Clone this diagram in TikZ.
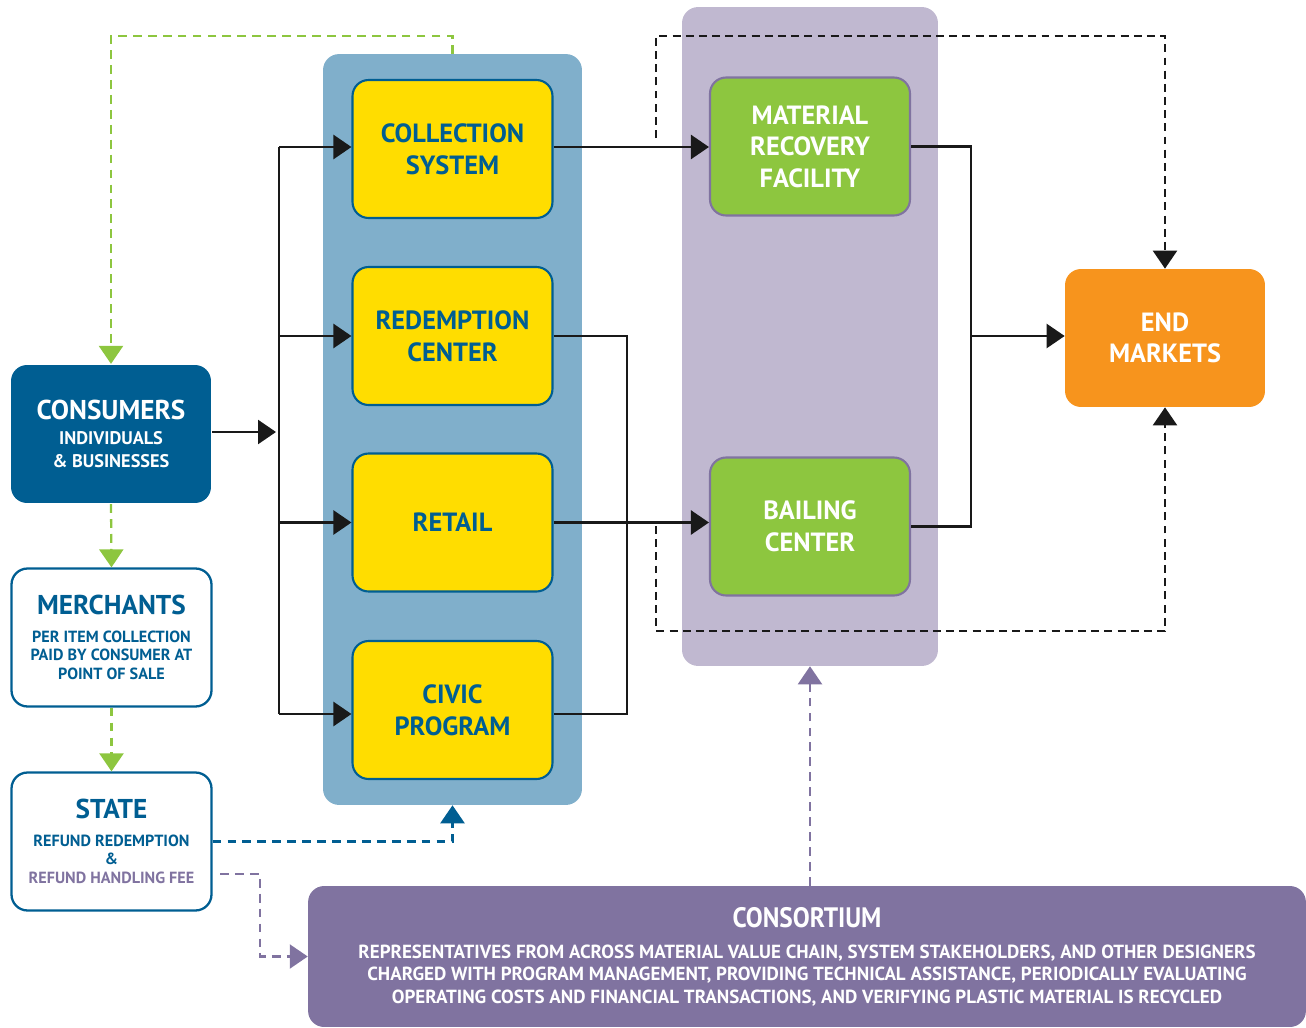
\documentclass[tikz,border=0pt]{standalone}
\usepackage{fontspec}
\setmainfont{PT Sans}
\newfontfamily\condfont[FakeStretch=0.9]{PT Sans}
\usepackage{xcolor}
\usetikzlibrary{arrows.meta, positioning, calc}
\definecolor{darkblue}{RGB}{0, 94, 146}
\definecolor{panelblue}{RGB}{128, 175, 203}
\definecolor{boxyellow}{RGB}{255, 221, 0}
\definecolor{boxgreen}{RGB}{141, 198, 63}
\definecolor{panellilac}{RGB}{192, 184, 208}
\definecolor{darklilac}{RGB}{128, 115, 160}
\definecolor{endorange}{RGB}{247, 148, 29}
\newcommand\headfont{\fontsize{15.5}{17}\selectfont}

\begin{document}
\begin{tikzpicture}[x=0.02cm, y=-0.02cm,
    box/.style={rectangle, rounded corners=0.32cm, minimum width=4cm, minimum height=2.76cm, align=center, inner sep=2pt, font=\bfseries\fontsize{15}{18}\selectfont},
    yellowbox/.style={box, fill=boxyellow, draw=darkblue, line width=1.2pt, text=darkblue},
    greenbox/.style={box, fill=boxgreen, draw=darklilac, line width=1.2pt, text=white},
    sidebox/.style={box, fill=white, draw=darkblue, line width=1.3pt, text=darkblue, font=\bfseries\fontsize{9.2}{10.8}\selectfont},
    panel/.style={rectangle, rounded corners=0.32cm, inner sep=0pt},
    edge/.style={line width=1.4pt, black!90},
    tip/.style={-{Triangle[length=0.36cm, width=0.48cm]}},
    blackdash/.style={line width=1.3pt, black!90, dash pattern=on 4.5pt off 3pt},
    greendash/.style={line width=1.3pt, boxgreen, dash pattern=on 5pt off 3.5pt},
    bluedash/.style={line width=1.3pt, darkblue, dash pattern=on 5pt off 3.5pt},
    lilacdash/.style={line width=1.3pt, darklilac, dash pattern=on 5pt off 3.5pt}
]
\clip (0,0) rectangle (1306,1028);

\node[panel, fill=panelblue, minimum width=5.18cm, minimum height=15.02cm] (bluepanel) at (452.5,429.5) {};
\node[panel, fill=panellilac, minimum width=5.12cm, minimum height=13.18cm] (lilacpanel) at (810,336.5) {};

\node[yellowbox] (collection) at (452.5,149) {COLLECTION\\SYSTEM};
\node[yellowbox] (redemption) at (452.5,336) {REDEMPTION\\CENTER};
\node[yellowbox] (retail) at (452.5,522.5) {RETAIL};
\node[yellowbox] (civic) at (452.5,710) {CIVIC\\PROGRAM};

\node[greenbox] (mrf) at (810,146.5) {MATERIAL\\RECOVERY\\FACILITY};
\node[greenbox] (bailing) at (810,526.5) {BAILING\\CENTER};
\node[box, fill=endorange, text=white] (endmarkets) at (1165,338) {END\\MARKETS};

\node[sidebox, draw=none, fill=darkblue, text=white, font=\bfseries\fontsize{10.4}{13}\selectfont] (consumers) at (111,434) {{\headfont CONSUMERS}\\[1pt]INDIVIDUALS\\\& BUSINESSES};
\node[sidebox] (merchants) at (111.5,637.5) {{\headfont MERCHANTS}\\[5pt]PER ITEM COLLECTION\\PAID BY CONSUMER AT\\POINT OF SALE};
\node[sidebox] (state) at (111.5,841.5) {{\headfont STATE}\\[5pt]REFUND REDEMPTION\\\&\\\textcolor{darklilac}{REFUND HANDLING FEE}};

\node[panel, fill=darklilac, text=white, align=center, minimum width=19.96cm, minimum height=2.82cm, font=\bfseries\fontsize{10.8}{12.8}\selectfont] (consortium) at (807,956.5) {{\condfont\fontsize{16}{16}\selectfont CONSORTIUM}\\[4.8pt]REPRESENTATIVES FROM ACROSS MATERIAL VALUE CHAIN, SYSTEM STAKEHOLDERS, AND OTHER DESIGNERS\\CHARGED WITH PROGRAM MANAGEMENT, PROVIDING TECHNICAL ASSISTANCE, PERIODICALLY EVALUATING\\OPERATING COSTS AND FINANCIAL TRANSACTIONS, AND VERIFYING PLASTIC MATERIAL IS RECYCLED};

\coordinate (bustop) at (279,147);
\coordinate (busbot) at (279,714);
\coordinate (busin) at (276,432);
\coordinate (join) at (627,714);
\coordinate (mix) at (971,336);
\coordinate (dtop) at (656,138);
\coordinate (dtopturn) at (656,36);
\coordinate (dbot) at (656,526);
\coordinate (dbotturn) at (656,631);
\coordinate (gturn) at (111,36);
\coordinate (feeout) at (220,874);
\coordinate (feeturn) at (260,874);

\draw[edge, tip] (consumers.east |- busin) -- (busin);
\draw[edge] (bustop) -- (busbot);
\draw[edge, tip] (bustop) -- (collection.west |- bustop);
\draw[edge, tip] (bustop |- redemption.west) -- (redemption.west);
\draw[edge, tip] (bustop |- retail.west) -- (retail.west);
\draw[edge, tip] (busbot) -- (civic.west |- busbot);

\draw[edge, tip] (collection.east |- bustop) -- (mrf.west |- bustop);
\draw[edge] (redemption.east) -| (join) -- (civic.east |- join);
\draw[edge, tip] (retail.east) -- (bailing.west |- retail.east);
\draw[edge] (mrf.east) -| (mix) |- (bailing.east);
\draw[edge, tip] (mix) -- (endmarkets.west |- mix);

\draw[blackdash, tip] (dtop) -- (dtopturn) -| (endmarkets.north);
\draw[blackdash, tip] (dbot) -- (dbotturn) -| (endmarkets.south);

\draw[greendash, tip] (bluepanel.north) |- (gturn) -- (consumers.north);
\draw[greendash, tip] (consumers.south) -- (merchants.north);
\draw[greendash, tip] (merchants.south) -- (state.north);

\draw[bluedash, tip] (state.east) -| (bluepanel.south);
\draw[lilacdash, tip] (feeout) -- (feeturn) |- (consortium.west);
\draw[lilacdash, tip] (lilacpanel.south |- consortium.north) -- (lilacpanel.south);
\end{tikzpicture}
\end{document}
